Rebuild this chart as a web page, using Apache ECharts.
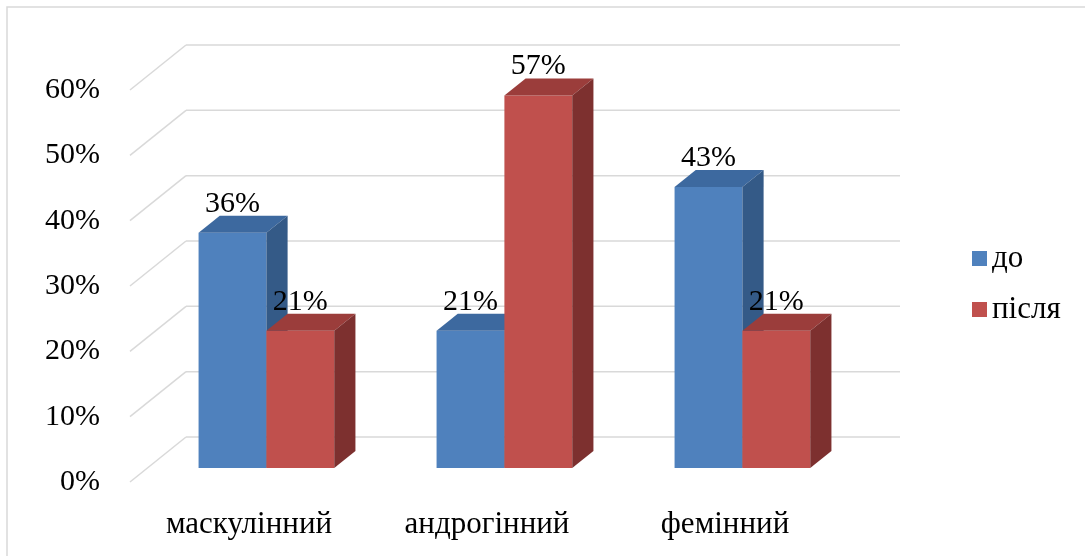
<!DOCTYPE html>
<html>
<head>
<meta charset="utf-8">
<style>
  html, body { margin: 0; padding: 0; background: #fff; }
  #chart { width: 1085px; height: 556px; }
</style>
<script src="https://cdn.jsdelivr.net/npm/echarts@6/dist/echarts.min.js"></script>
</head>
<body>
<div id="chart"></div>
<script>
// Gender-role types, share of respondents before and after
const categories = ['маскулінний', 'андрогінний', 'фемінний'];
const seriesNames = ['до', 'після'];
const beforeValues = [36, 21, 43];
const afterValues = [21, 57, 21];
const yTicks = [0, 10, 20, 30, 40, 50, 60];

const FONT = '"Liberation Serif", "Times New Roman", serif';

// Oblique projection: the back wall is grid 0; the front edge of the floor
// sits WALL_DEPTH away from it, and the bars occupy the middle of that depth.
const WALL_DEPTH = [-56, 45];
const BAR_FRONT = [-38.6, 31];
const BAR_BACK = [-17.4, 14];

const palettes = [
  { front: '#4F81BD', top: '#3D699F', side: '#345A87' },
  { front: '#C0504D', top: '#9B3D3B', side: '#7D302F' }
];

function barRenderer(side) {
  const pal = palettes[side];
  return function (params, api) {
    const cat = api.value(0);
    const val = api.value(1);
    const base = api.coord([cat, 0]);
    const topPt = api.coord([cat, val]);
    const band = api.size([1, 0])[0];
    const w = band * 0.285;
    const x0 = base[0] + BAR_FRONT[0] + (side === 0 ? -w : 0);
    const x1 = x0 + w;
    const yb = base[1] + BAR_FRONT[1];
    const yt = topPt[1] + BAR_FRONT[1];
    const dx = BAR_BACK[0] - BAR_FRONT[0];
    const dy = BAR_BACK[1] - BAR_FRONT[1];
    return {
      type: 'group',
      children: [
        { type: 'polygon', shape: { points: [[x0, yb], [x1, yb], [x1, yt], [x0, yt]] },
          style: { fill: pal.front } },
        { type: 'polygon', shape: { points: [[x0, yt], [x1, yt], [x1 + dx, yt + dy], [x0 + dx, yt + dy]] },
          style: { fill: pal.top } },
        { type: 'polygon', shape: { points: [[x1, yb], [x1 + dx, yb + dy], [x1 + dx, yt + dy], [x1, yt]] },
          style: { fill: pal.side } },
        { type: 'text', x: (x0 + x1) / 2, y: yt + dy + 3,
          style: { text: val + '%', fill: '#000', font: '30px ' + FONT,
                   align: 'center', verticalAlign: 'bottom' } }
      ]
    };
  };
}

function gridLineRenderer(params, api) {
  const cs = params.coordSys;
  const y = api.coord([0, api.value(1)])[1];
  const left = cs.x, right = cs.x + cs.width;
  const style = { stroke: '#D9D9D9', lineWidth: 1.5 };
  return {
    type: 'group',
    children: [
      { type: 'line', shape: { x1: left, y1: y, x2: right, y2: y }, style },
      { type: 'line', shape: { x1: left, y1: y, x2: left + WALL_DEPTH[0], y2: y + WALL_DEPTH[1] }, style }
    ]
  };
}

const chart = echarts.init(document.getElementById('chart'));
chart.setOption({
  animation: false,
  backgroundColor: '#fff',
  textStyle: { fontFamily: FONT },
  graphic: [{
    type: 'rect', shape: { x: 7, y: 7, width: 1200, height: 700 },
    style: { fill: 'none', stroke: '#D9D9D9', lineWidth: 1.5 }, silent: true
  }],
  grid: [
    { left: 186, top: 45, width: 714, height: 392 },
    { left: 186 + WALL_DEPTH[0], top: 45 + WALL_DEPTH[1], width: 714, height: 392 }
  ],
  xAxis: [
    { type: 'category', data: categories, gridIndex: 0, show: false },
    { type: 'category', data: categories, gridIndex: 1,
      axisLine: { show: false }, axisTick: { show: false },
      axisLabel: { color: '#000', fontSize: 31, fontFamily: FONT, margin: 27 } }
  ],
  yAxis: [
    { type: 'value', min: 0, max: 60, interval: 10, gridIndex: 0, show: false },
    { type: 'value', min: 0, max: 60, interval: 10, gridIndex: 1,
      axisLine: { show: false }, axisTick: { show: false }, splitLine: { show: false },
      axisLabel: { color: '#000', fontSize: 30, fontFamily: FONT, margin: 30,
                   formatter: '{value}%' } }
  ],
  legend: {
    data: seriesNames,
    orient: 'vertical',
    left: 967, top: 238,
    icon: 'rect', itemWidth: 15, itemHeight: 15, itemGap: 20,
    textStyle: { color: '#000', fontSize: 31, fontFamily: FONT }
  },
  series: [
    { type: 'custom', name: 'grid', xAxisIndex: 0, yAxisIndex: 0, silent: true, z: 1,
      renderItem: gridLineRenderer, data: yTicks.map(v => [0, v]) },
    { type: 'custom', name: seriesNames[0], xAxisIndex: 0, yAxisIndex: 0, z: 2,
      itemStyle: { color: palettes[0].front },
      renderItem: barRenderer(0), data: beforeValues.map((v, i) => [i, v]) },
    { type: 'custom', name: seriesNames[1], xAxisIndex: 0, yAxisIndex: 0, z: 3,
      itemStyle: { color: palettes[1].front },
      renderItem: barRenderer(1), data: afterValues.map((v, i) => [i, v]) }
  ]
});
</script>
</body>
</html>
